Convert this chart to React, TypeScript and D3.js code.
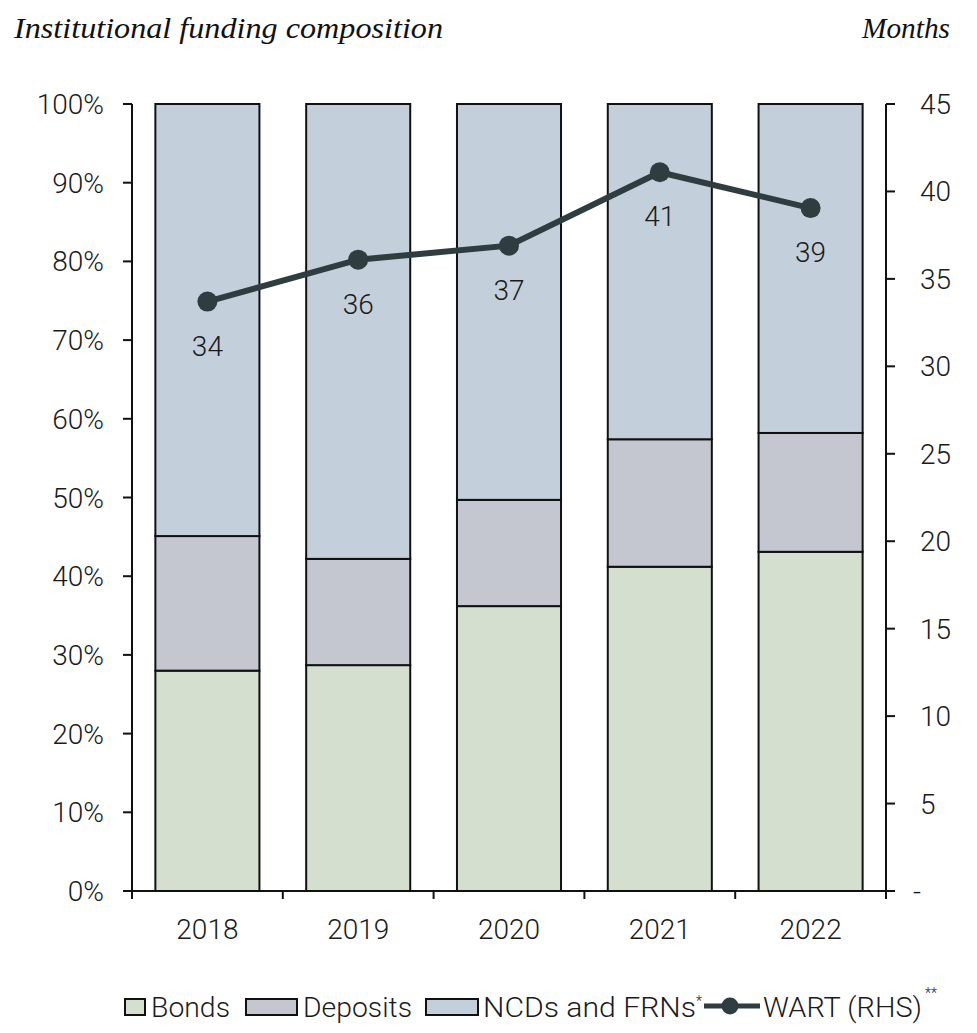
import React from "react";
import * as d3 from "d3";

const years = ["2018", "2019", "2020", "2021", "2022"];
const bonds = [28.0, 28.7, 36.2, 41.2, 43.1];
const deposits = [17.1, 13.5, 13.5, 16.2, 15.1];
const ncds = bonds.map((b, i) => 100 - b - deposits[i]);
const wart = [33.7, 36.1, 36.9, 41.1, 39.05];
const wartLabels = ["34", "36", "37", "41", "39"];
const leftTicks = [0, 10, 20, 30, 40, 50, 60, 70, 80, 90, 100];
const rightTicks = [0, 5, 10, 15, 20, 25, 30, 35, 40, 45];

const colors = { bonds: "#d5dfcf", deposits: "#c4c7cf", ncds: "#c3d0db", line: "#2f3d40" };
const sans = "Roboto, 'Liberation Sans', Arial, sans-serif";
const serif = "'Liberation Serif', 'DejaVu Serif', serif";
const fs = 28;
const tc = "#1a1a1a";

export default function App() {
  const W = 977, H = 1033;
  const x0 = 132, x1 = 886, yTop = 104, yBot = 891;
  const x = d3.scaleBand().domain(years).range([x0, x1]).padding(0);
  const y = d3.scaleLinear().domain([0, 100]).range([yBot, yTop]);
  const yR = d3.scaleLinear().domain([0, 45]).range([yBot, yTop]);
  const bw = x.bandwidth() * 0.69;
  const cx = (yr: string) => (x(yr) as number) + x.bandwidth() / 2;

  const stacks = [
    { key: "bonds", vals: bonds, color: colors.bonds },
    { key: "deposits", vals: deposits, color: colors.deposits },
    { key: "ncds", vals: ncds, color: colors.ncds },
  ];

  const line = d3.line<number>().x((_, i) => cx(years[i])).y((d) => yR(d));

  return (
    <svg width={W} height={H} style={{ display: "block", position: "absolute", left: 0, top: 0 }}>
      <rect width={W} height={H} fill="#fff" />
      <text x={14} y={38} fontFamily={serif} fontStyle="italic" fontSize={30} fill="#111" textLength={429} lengthAdjust="spacingAndGlyphs">
        Institutional funding composition
      </text>
      <text x={862} y={38} fontFamily={serif} fontStyle="italic" fontSize={30} fill="#111" textLength={88} lengthAdjust="spacingAndGlyphs">
        Months
      </text>

      {years.map((yr, i) => {
        let base = 0;
        return (
          <g key={yr}>
            {stacks.map((s) => {
              const v = s.vals[i];
              const r = (
                <rect
                  key={s.key}
                  x={cx(yr) - bw / 2}
                  y={y(base + v)}
                  width={bw}
                  height={y(base) - y(base + v)}
                  fill={s.color}
                  stroke="#111"
                  strokeWidth={2}
                />
              );
              base += v;
              return r;
            })}
          </g>
        );
      })}

      {/* left axis */}
      <line x1={x0} x2={x0} y1={yTop} y2={yBot} stroke="#111" strokeWidth={2} />
      {leftTicks.map((t) => (
        <g key={t}>
          <line x1={x0 - 9} x2={x0} y1={y(t)} y2={y(t)} stroke="#111" strokeWidth={2} />
          <text x={104} y={y(t) + 10} textAnchor="end" fontFamily={sans} fontWeight={300} fontSize={fs} fill={tc}>
            {t}%
          </text>
        </g>
      ))}
      {/* right axis */}
      <line x1={x1} x2={x1} y1={yTop} y2={yBot + 8} stroke="#111" strokeWidth={2} />
      {rightTicks.map((t) => (
        <g key={t}>
          <line x1={x1} x2={x1 + 9} y1={yR(t)} y2={yR(t)} stroke="#111" strokeWidth={2} />
          <text x={t === 0 ? 913 : 920} y={yR(t) + 10} fontFamily={sans} fontWeight={300} fontSize={fs} fill={tc}>
            {t === 0 ? "-" : t}
          </text>
        </g>
      ))}
      {/* bottom axis */}
      <line x1={x0 - 9} x2={x1} y1={yBot} y2={yBot} stroke="#111" strokeWidth={2} />
      {years.map((yr) => (
        <line key={"t" + yr} x1={(x(yr) as number) + x.bandwidth()} x2={(x(yr) as number) + x.bandwidth()} y1={yBot} y2={yBot + 8} stroke="#111" strokeWidth={2} />
      ))}
      <line x1={x0} x2={x0} y1={yBot} y2={yBot + 8} stroke="#111" strokeWidth={2} />
      {years.map((yr) => (
        <text key={"l" + yr} x={cx(yr)} y={939} textAnchor="middle" fontFamily={sans} fontWeight={300} fontSize={fs} fill={tc}>
          {yr}
        </text>
      ))}

      {/* WART line */}
      <path d={line(wart) || ""} fill="none" stroke={colors.line} strokeWidth={6} />
      {wart.map((v, i) => (
        <g key={"w" + i}>
          <circle cx={cx(years[i])} cy={yR(v)} r={10} fill={colors.line} />
          <text x={cx(years[i])} y={yR(v) + 54} textAnchor="middle" fontFamily={sans} fontWeight={300} fontSize={fs} fill={tc}>
            {wartLabels[i]}
          </text>
        </g>
      ))}

      {/* legend */}
      <g fontFamily={sans} fontWeight={300} fontSize={fs} fill={tc}>
        <rect x={125} y={999} width={20} height={16} fill={colors.bonds} stroke="#111" strokeWidth={2} />
        <text x={151} y={1017} textLength={79} lengthAdjust="spacingAndGlyphs">Bonds</text>
        <rect x={246} y={999} width={51} height={16} fill={colors.deposits} stroke="#111" strokeWidth={2} />
        <text x={303} y={1017} textLength={109} lengthAdjust="spacingAndGlyphs">Deposits</text>
        <rect x={426} y={999} width={52} height={16} fill={colors.ncds} stroke="#111" strokeWidth={2} />
        <text x={483} y={1017} textLength={213} lengthAdjust="spacingAndGlyphs">NCDs and FRNs</text>
        <text x={696} y={1006} fontSize={14}>*</text>
        <line x1={704} x2={760} y1={1006} y2={1006} stroke={colors.line} strokeWidth={5} />
        <circle cx={730} cy={1006} r={8.5} fill={colors.line} />
        <text x={763} y={1017} textLength={159} lengthAdjust="spacingAndGlyphs">WART (RHS)</text>
        <text x={925} y={998} fontSize={14}>**</text>
      </g>
    </svg>
  );
}
